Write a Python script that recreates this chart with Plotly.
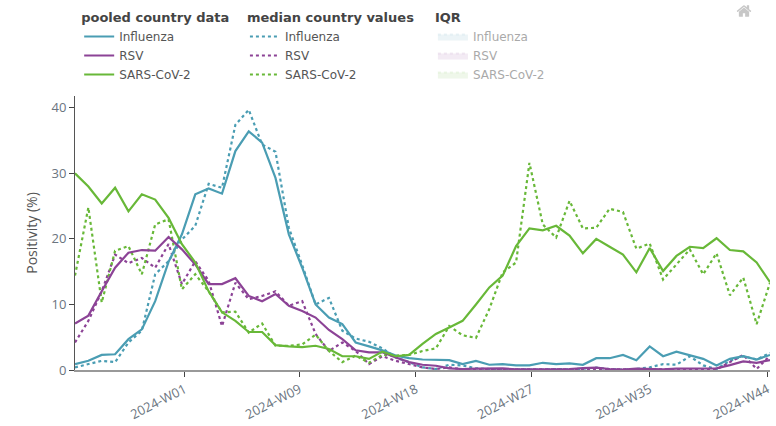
import plotly.graph_objects as go

weeks = list(range(53))
tick_positions = [8.2, 16.8, 25.5, 34.15, 43.0, 51.8]
tick_labels = ["2024-W01", "2024-W09", "2024-W18", "2024-W27", "2024-W35", "2024-W44"]

flu_pooled = [0.9, 1.4, 2.3, 2.4, 4.7, 6.2, 10.5, 16.5, 20.7, 26.8, 27.7, 26.9, 33.4, 36.4, 34.7, 29.3, 20.7, 15.6, 10.0, 8.0,
              7.0, 4.2, 3.6, 3.0, 2.2, 1.8, 1.6, 1.5, 1.5, 0.9, 1.4, 0.8, 0.9, 0.7, 0.7, 1.1, 0.9, 1.0, 0.8, 1.8, 1.8, 2.3, 1.5,
              3.6, 2.1, 2.8, 2.2, 1.7, 0.7, 1.7, 2.1, 1.6, 2.3]
flu_median = [0.4, 0.9, 1.4, 1.2, 4.2, 6.0, 14.6, 16.6, 19.9, 22.0, 28.4, 27.8, 37.4, 39.7, 34.4, 33.3, 21.7, 16.0, 10.0, 11.0,
              6.0, 4.8, 4.3, 3.3, 1.9, 1.2, 0.4, 0.15, 0.8, 0.7, 0.25, 0.15, 0.1, 0.1, 0.1, 0.05, 0.15, 0.1, 0.2, 0.35, 0.15, 0.05, 0.15,
              0.4, 0.9, 0.8, 2.1, 0.7, 0.15, 1.4, 2.1, 1.6, 2.6]
rsv_pooled = [7.1, 8.3, 12.0, 15.6, 17.9, 18.3, 18.2, 20.3, 18.4, 16.1, 13.1, 13.1, 14.0, 11.3, 10.5, 11.6, 9.8, 9.0, 8.0, 6.1,
              4.7, 3.0, 2.7, 2.7, 1.9, 1.2, 0.8, 0.65, 0.25, 0.15, 0.2, 0.25, 0.25, 0.1, 0.1, 0.1, 0.1, 0.15, 0.3, 0.35, 0.15, 0.05, 0.2,
              0.1, 0.1, 0.2, 0.25, 0.25, 0.25, 0.75, 1.3, 1.1, 1.5]
rsv_median = [4.2, 7.5, 12.0, 17.6, 16.3, 17.1, 15.6, 19.2, 13.1, 16.6, 13.6, 6.7, 13.3, 10.8, 11.3, 12.0, 9.8, 10.5, 5.5, 2.9,
              4.2, 2.9, 0.9, 2.1, 1.4, 0.9, 0.4, 0.15, 0.4, 0.1, 0.1, 0.1, 0.1, 0.1, 0.1, 0.1, 0.1, 0.1, 0.1, 0.1, 0.1, 0.1, 0.1,
              0.1, 0.1, 0.1, 0.1, 0.1, 0.1, 1.2, 2.3, 0.15, 2.2]
sars_pooled = [30.0, 28.0, 25.4, 27.8, 24.2, 26.8, 26.0, 23.2, 19.2, 16.4, 12.0, 8.8, 7.5, 5.8, 5.8, 3.8, 3.6, 3.5, 3.7, 3.2,
               2.1, 2.1, 1.7, 2.8, 2.1, 2.3, 4.0, 5.5, 6.5, 7.5, 10.0, 12.6, 14.4, 18.9, 21.6, 21.3, 22.0, 20.5, 17.8, 20.0, 18.8, 17.6, 14.9,
               18.6, 15.1, 17.4, 18.8, 18.6, 20.1, 18.3, 18.1, 16.4, 13.4]
sars_median = [14.4, 24.8, 10.3, 18.2, 18.9, 14.6, 22.2, 23.0, 12.3, 14.6, 12.0, 8.8, 8.9, 5.7, 7.1, 3.7, 3.7, 3.9, 5.4, 2.9,
               1.2, 2.2, 1.1, 2.3, 2.2, 2.3, 2.9, 3.3, 6.7, 5.3, 4.9, 9.3, 14.9, 16.4, 31.6, 22.2, 20.2, 25.8, 21.6, 21.7, 24.6, 24.1, 18.5,
               19.3, 13.8, 16.1, 18.4, 14.6, 17.8, 11.4, 14.1, 7.0, 13.3]

names = ["Influenza", "RSV", "SARS-CoV-2"]
colors = ["#4a9db3", "#8c4396", "#68b838"]
fills = ["rgba(74,157,179,0.2)", "rgba(140,67,150,0.2)", "rgba(104,184,56,0.2)"]
pooled = [flu_pooled, rsv_pooled, sars_pooled]
median = [flu_median, rsv_median, sars_median]

fig = go.Figure()
for name, color, fill, vals in zip(names, colors, fills, median):
    fig.add_trace(go.Scatter(x=weeks, y=vals, name=name, mode="lines", fill="toself", fillcolor=fill,
                             line=dict(color=fill, width=2, dash="dot"), visible="legendonly", legend="legend3"))
for name, color, vals in zip(names, colors, median):
    fig.add_trace(go.Scatter(x=weeks, y=vals, name=name, mode="lines",
                             line=dict(color=color, width=2.2, dash="dot"), legend="legend2"))
for name, color, vals in zip(names, colors, pooled):
    fig.add_trace(go.Scatter(x=weeks, y=vals, name=name, mode="lines",
                             line=dict(color=color, width=2.2), legend="legend"))

def legend(x, title):
    return dict(x=x, y=0.988, xref="paper", yref="container", xanchor="left", yanchor="top",
                orientation="v", bgcolor="rgba(0,0,0,0)", traceorder="normal",
                title=dict(text="<b>" + title + "</b>", font=dict(size=13, color="#444", family="DejaVu Sans")),
                font=dict(size=12, color="#555", family="DejaVu Sans"), tracegroupgap=0, itemwidth=30)

fig.update_layout(
    width=776, height=426, margin=dict(l=75, r=3, t=96, b=55),
    paper_bgcolor="white", plot_bgcolor="white",
    font=dict(family="Open Sans", color="#5f6770", size=12),
    legend=legend(0.006, "pooled country data"),
    legend2=legend(0.2445, "median country values"),
    legend3=legend(0.515, "IQR"),
    xaxis=dict(range=[0, 52], tickmode="array", tickvals=tick_positions, ticktext=tick_labels, tickangle=-27,
               ticks="outside", ticklen=5, tickcolor="#444", showgrid=False, zeroline=False, showline=True,
               linecolor="#999", linewidth=2, tickfont=dict(size=13, color="#6b7580")),
    yaxis=dict(range=[0, 41.8], tickvals=[0, 10, 20, 30, 40], ticks="outside", ticklen=5, tickcolor="#444",
               showgrid=False, zeroline=False, showline=True, linecolor="#555", linewidth=1,
               tickfont=dict(size=13, color="#6b7580"),
               title=dict(text="Positivity (%)", font=dict(size=14, color="#555"), standoff=10)),
)
page_css = ("var s=document.createElement('style');"
            "s.textContent='body{margin:0}.modebar{right:20px !important;top:0 !important}';"
            "document.head.appendChild(s);")
fig.write_html("out.html", post_script=page_css,
               config=dict(displayModeBar=True, displaylogo=False, modeBarButtons=[["resetScale2d"]]))
